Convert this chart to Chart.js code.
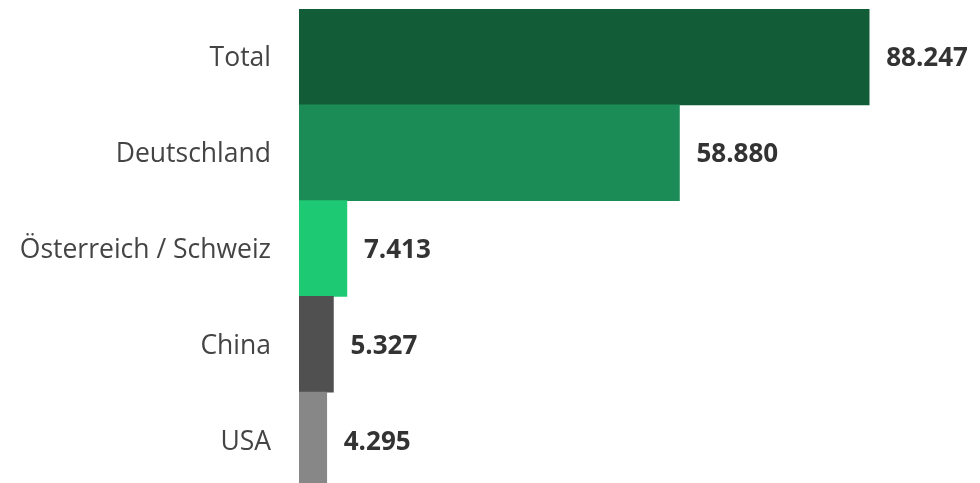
<!DOCTYPE html>
<html>
<head>
<meta charset="utf-8">
<script src="https://cdn.jsdelivr.net/npm/chart.js@4/dist/chart.umd.min.js"></script>
<style>
    html, body { margin: 0; padding: 0; background: #fff; overflow: hidden; }
    canvas { display: block; }
</style>
</head>
<body>
<canvas id="chart" width="980" height="488"></canvas>
<script>
const categories = ['Total', 'Deutschland', 'Österreich / Schweiz', 'China', 'USA'];
const values = [88247, 58880, 7413, 5327, 4295];
const valueLabels = ['88.247', '58.880', '7.413', '5.327', '4.295'];
const barColors = ['#125c38', '#1b8c55', '#1ec974', '#505050', '#878787'];

// draws the numbers right of each bar
const valueLabelPlugin = {
    id: 'valueLabels',
    afterDatasetsDraw(chart) {
        const ctx = chart.ctx;
        const meta = chart.getDatasetMeta(0);
        ctx.save();
        ctx.font = 'bold 26px "Open Sans"';
        ctx.fillStyle = '#333333';
        ctx.textAlign = 'left';
        ctx.textBaseline = 'middle';
        meta.data.forEach((bar, i) => {
            ctx.fillText(valueLabels[i], bar.x + 17, bar.y + 2);
        });
        ctx.restore();
    }
};

new Chart(document.getElementById('chart').getContext('2d'), {
    type: 'bar',
    data: {
        labels: categories,
        datasets: [{
            data: values,
            backgroundColor: barColors,
            borderWidth: 0,
            categoryPercentage: 1,
            barPercentage: 1
        }]
    },
    options: {
        indexAxis: 'y',
        responsive: false,
        animation: false,
        layout: { padding: { top: 9, right: 0, bottom: 0, left: 0 } },
        plugins: {
            legend: { display: false },
            tooltip: { enabled: false }
        },
        scales: {
            x: {
                display: false,
                min: 0,
                max: 105400
            },
            y: {
                grid: { display: false, drawTicks: false },
                border: { display: false },
                ticks: {
                    padding: 28,
                    labelOffset: 2,
                    color: '#444444',
                    font: { family: 'Open Sans', size: 26.5 }
                },
                afterFit(axis) {
                    axis.width = 299;
                    axis.paddingTop = 0;
                    axis.paddingBottom = 0;
                }
            }
        }
    },
    plugins: [valueLabelPlugin]
});
</script>
</body>
</html>
